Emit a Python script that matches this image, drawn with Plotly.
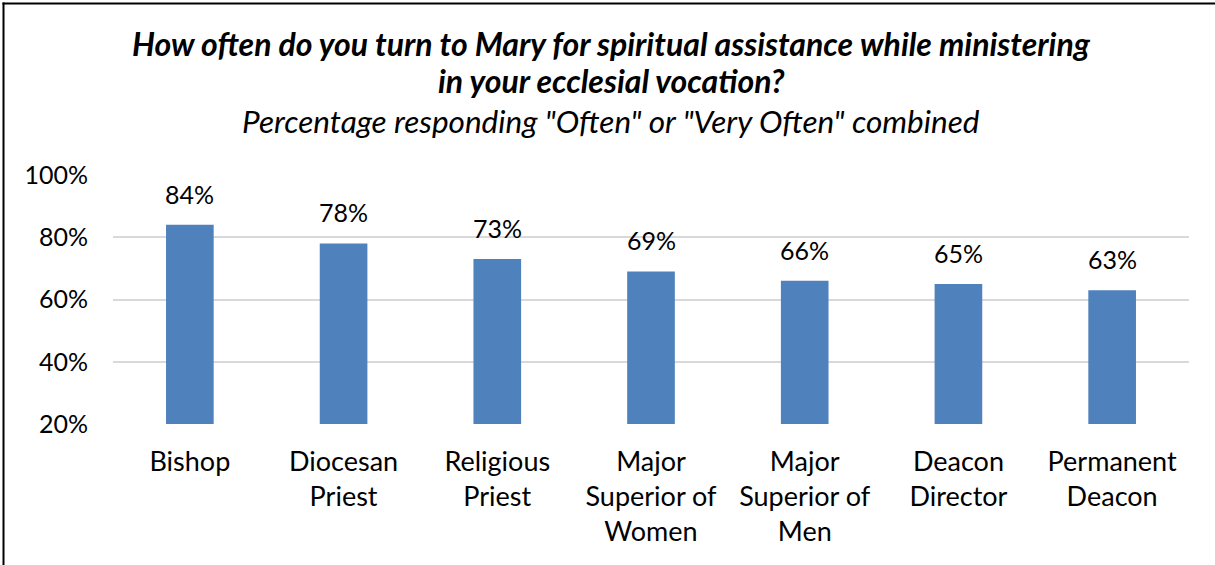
import plotly.graph_objects as go

categories = ["Bishop", "Diocesan<br>Priest", "Religious<br>Priest", "Major<br>Superior of<br>Women",
              "Major<br>Superior of<br>Men", "Deacon<br>Director", "Permanent<br>Deacon"]
values = [84, 78, 73, 69, 66, 65, 63]
tick_vals = [20, 40, 60, 80, 100]
tick_text = ["20%", "40%", "60%", "80%", "100%"]

FONT = "Lato"
W, H = 1215, 565
L, R, T, B = 113, 26, 175, 141

fig = go.Figure(go.Bar(
    x=categories, y=values,
    marker=dict(color="#4F81BD", line=dict(width=0)),
    width=0.31,
    hoverinfo="skip",
))

pw, ph = W - L - R, H - T - B
def px_x(p): return (p - L) / pw
def px_y(p): return (H - B - p) / ph

annotations = [
    dict(x=c, y=v, xref="x", yref="y", text=f"{v}%", showarrow=False,
         yanchor="bottom", yshift=14, font=dict(family=FONT, size=25, color="#000000"))
    for c, v in zip(categories, values)
]
title_font = dict(family=FONT, size=32, color="#000000")
annotations += [
    dict(text="<b><i>How often do you turn to Mary for spiritual assistance while ministering</i></b>",
         xref="paper", yref="paper", x=px_x(611), y=px_y(44), xanchor="center", yanchor="middle",
         showarrow=False, font=title_font),
    dict(text="<b><i>in your ecclesial vocation?</i></b>",
         xref="paper", yref="paper", x=px_x(611), y=px_y(81), xanchor="center", yanchor="middle",
         showarrow=False, font=title_font),
    dict(text="<i>Percentage responding \"Often\" or \"Very Often\" combined</i>",
         xref="paper", yref="paper", x=px_x(611), y=px_y(121), xanchor="center", yanchor="middle",
         showarrow=False, font=dict(family=FONT, size=31.5, color="#000000")),
]

border = dict(color="#000000", width=2)
fig.update_layout(
    width=W, height=H,
    margin=dict(l=L, r=R, t=T, b=B),
    plot_bgcolor="white", paper_bgcolor="white",
    showlegend=False,
    font=dict(family=FONT, size=24, color="#000000"),
    xaxis=dict(showline=False, ticks="", tickfont=dict(family=FONT, size=27),
               ticklabelstandoff=19),
    yaxis=dict(range=[20, 100], tickvals=tick_vals, ticktext=tick_text,
               showgrid=True, gridcolor="#D9D9D9", gridwidth=1.5,
               zeroline=False, showline=False, ticks="", ticklen=0,
               ticklabelstandoff=24,
               tickfont=dict(family=FONT, size=25)),
    annotations=annotations,
    shapes=[
        dict(type="line", xref="paper", yref="paper",
             x0=px_x(2.5), x1=px_x(1215), y0=px_y(3.5), y1=px_y(3.5), line=border, layer="below"),
        dict(type="line", xref="paper", yref="paper",
             x0=px_x(3.5), x1=px_x(3.5), y0=px_y(2.5), y1=px_y(565), line=border, layer="below"),
    ],
)

fig.write_html("out.html", config={"displayModeBar": False},
               post_script="document.body.style.margin='0';")
